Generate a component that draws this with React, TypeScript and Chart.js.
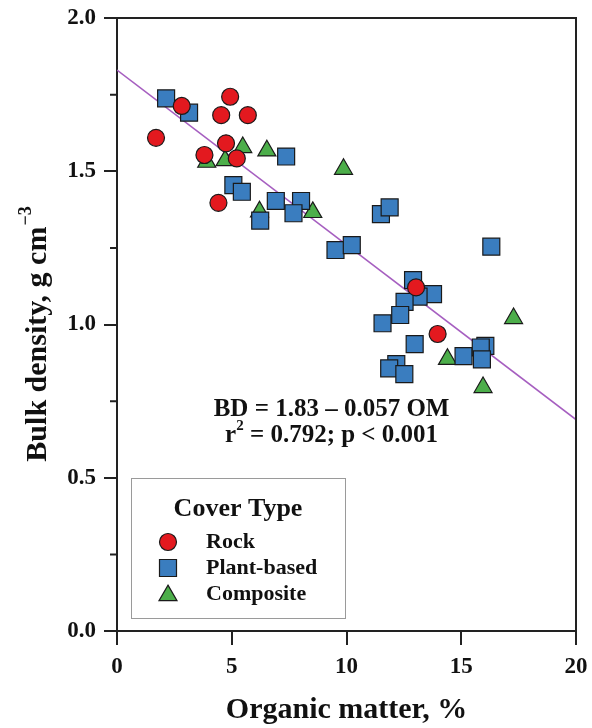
import React, { useEffect, useRef } from 'react';
import { Chart, registerables } from 'chart.js';

Chart.register(...registerables);

const FONT = "'Liberation Serif', 'Times New Roman', Times, serif";

// Rock cover
const rockOM = [1.70, 2.82, 4.93, 4.54, 5.70, 4.75, 3.81, 5.22, 4.42, 13.03, 13.97];
const rockBD = [1.609, 1.713, 1.743, 1.683, 1.683, 1.591, 1.553, 1.542, 1.397, 1.121, 0.969];

// Plant-based cover
const plantOM = [2.14, 3.14, 7.37, 5.07, 5.44, 6.92, 8.02, 7.69, 6.24, 9.52, 10.23, 11.50, 11.88, 16.31, 12.90, 13.77, 13.14, 12.53, 12.34, 11.57, 12.97, 15.10, 16.05, 15.85, 15.90, 12.17, 11.86, 12.52];
const plantBD = [1.738, 1.691, 1.548, 1.455, 1.433, 1.403, 1.403, 1.363, 1.339, 1.243, 1.259, 1.360, 1.382, 1.254, 1.145, 1.099, 1.091, 1.074, 1.031, 1.004, 0.936, 0.897, 0.930, 0.925, 0.886, 0.871, 0.857, 0.838];

// Composite cover
const compOM = [3.91, 4.71, 5.48, 6.53, 6.21, 8.53, 9.87, 14.40, 15.95, 17.28];
const compBD = [1.530, 1.535, 1.578, 1.567, 1.368, 1.366, 1.507, 0.887, 0.795, 1.020];

// Regression line endpoints (BD = 1.83 - 0.057 OM)
const fitOM = [0, 20];
const fitBD = [1.83, 0.69];

const xTicks = [0, 5, 10, 15, 20];
const yMinorTicks = [0.25, 0.75, 1.25, 1.75];

const seriesNames = ['Rock', 'Plant-based', 'Composite'];
const RED = '#e3191f';
const BLUE = '#3a7dbf';
const GREEN = '#4cae4a';
const EDGE = '#1a1a1a';

const toPts = (xs: number[], ys: number[]) => xs.map((x, i) => ({ x, y: ys[i] }));

function drawMarker(ctx: CanvasRenderingContext2D, kind: string, x: number, y: number) {
  ctx.save();
  ctx.lineWidth = 1.2;
  ctx.strokeStyle = EDGE;
  ctx.beginPath();
  if (kind === 'circle') {
    ctx.fillStyle = RED;
    ctx.arc(x, y, 8.5, 0, Math.PI * 2);
  } else if (kind === 'rect') {
    ctx.fillStyle = BLUE;
    ctx.rect(x - 8.5, y - 8.5, 17, 17);
  } else {
    ctx.fillStyle = GREEN;
    const r = 10.4;
    for (let i = 0; i < 3; i++) {
      const a = (i * 2 * Math.PI) / 3;
      const px = x + Math.sin(a) * r;
      const py = y - Math.cos(a) * r;
      if (i === 0) ctx.moveTo(px, py);
      else ctx.lineTo(px, py);
    }
    ctx.closePath();
  }
  ctx.fill();
  ctx.stroke();
  ctx.restore();
}

const decorPlugin = {
  id: 'decor',
  afterDraw(chart: any) {
    const { ctx, chartArea: a, scales } = chart;
    const ys = scales.y;
    const xs = scales.x;
    ctx.save();
    // top and right frame
    ctx.strokeStyle = '#222';
    ctx.lineWidth = 2;
    ctx.beginPath();
    ctx.moveTo(a.left - 1, a.top);
    ctx.lineTo(a.right, a.top);
    ctx.lineTo(a.right, a.bottom);
    ctx.stroke();
    // minor y ticks
    ctx.beginPath();
    for (const v of yMinorTicks) {
      const py = ys.getPixelForValue(v);
      ctx.moveTo(a.left - 7, py);
      ctx.lineTo(a.left, py);
    }
    ctx.stroke();

    // y title with superscript
    ctx.fillStyle = '#111';
    const mainTxt = 'Bulk density, g cm';
    const supTxt = '\u22123';
    ctx.font = `bold 30px ${FONT}`;
    const wMain = ctx.measureText(mainTxt).width;
    ctx.font = `bold 18px ${FONT}`;
    const wSup = ctx.measureText(supTxt).width;
    const total = wMain + wSup;
    ctx.save();
    ctx.translate(38, (a.top + a.bottom) / 2 + 10);
    ctx.rotate(-Math.PI / 2);
    ctx.textBaseline = 'middle';
    ctx.textAlign = 'left';
    ctx.font = `bold 30px ${FONT}`;
    ctx.fillText(mainTxt, -total / 2, 0);
    ctx.font = `bold 18px ${FONT}`;
    ctx.fillText(supTxt, -total / 2 + wMain + 1, -12);
    ctx.restore();

    // regression annotation
    const cx = xs.getPixelForValue(9.35);
    ctx.textBaseline = 'middle';
    ctx.textAlign = 'center';
    ctx.font = `bold 25px ${FONT}`;
    const l1y = ys.getPixelForValue(0.724);
    ctx.fillText('BD = 1.83 \u2013 0.057 OM', cx, l1y);
    const l2y = l1y + 26;
    const r = 'r';
    const sup = '2';
    const rest = ' = 0.792; p < 0.001';
    ctx.font = `bold 25px ${FONT}`;
    const wr = ctx.measureText(r).width;
    const wrest = ctx.measureText(rest).width;
    ctx.font = `bold 15px ${FONT}`;
    const ws = ctx.measureText(sup).width;
    const tot2 = wr + ws + wrest;
    const sx = cx - tot2 / 2;
    ctx.textAlign = 'left';
    ctx.font = `bold 25px ${FONT}`;
    ctx.fillText(r, sx, l2y);
    ctx.font = `bold 15px ${FONT}`;
    ctx.fillText(sup, sx + wr, l2y - 9);
    ctx.font = `bold 25px ${FONT}`;
    ctx.fillText(rest, sx + wr + ws, l2y);

    // legend box
    const bx = a.left + 14;
    const by = 478;
    const bw = 214;
    const bh = 140;
    ctx.fillStyle = '#fff';
    ctx.fillRect(bx, by, bw, bh);
    ctx.strokeStyle = '#9a9a9a';
    ctx.lineWidth = 1;
    ctx.strokeRect(bx + 0.5, by + 0.5, bw, bh);
    ctx.fillStyle = '#111';
    ctx.textAlign = 'center';
    ctx.textBaseline = 'middle';
    ctx.font = `bold 26px ${FONT}`;
    ctx.fillText('Cover Type', bx + bw / 2, by + 31);
    const kinds = ['circle', 'rect', 'triangle'];
    const rowY = [by + 64, by + 90, by + 116];
    ctx.textAlign = 'left';
    for (let i = 0; i < 3; i++) {
      drawMarker(ctx, kinds[i], bx + 37, rowY[i] + (kinds[i] === 'triangle' ? 1.5 : 0));
      ctx.fillStyle = '#111';
      ctx.font = `bold 22px ${FONT}`;
      ctx.fillText(seriesNames[i], bx + 75, rowY[i]);
    }
    ctx.restore();
  },
};

export default function App() {
  const ref = useRef<HTMLCanvasElement | null>(null);
  useEffect(() => {
    if (!ref.current) return;
    const tickFont = { family: FONT, size: 23, weight: 'bold' as const };
    const chart = new Chart(ref.current, {
      type: 'scatter',
      data: {
        datasets: [
          {
            label: 'Fit',
            data: toPts(fitOM, fitBD),
            showLine: true,
            borderColor: '#a65fc0',
            borderWidth: 1.6,
            pointRadius: 0,
            order: 4,
          } as any,
          {
            label: seriesNames[2],
            data: toPts(compOM, compBD),
            pointStyle: 'triangle',
            pointRadius: 10.4,
            backgroundColor: GREEN,
            borderColor: EDGE,
            borderWidth: 1.2,
            order: 3,
          },
          {
            label: seriesNames[1],
            data: toPts(plantOM, plantBD),
            pointStyle: 'rect',
            pointRadius: 12,
            backgroundColor: BLUE,
            borderColor: EDGE,
            borderWidth: 1.2,
            order: 2,
          },
          {
            label: seriesNames[0],
            data: toPts(rockOM, rockBD),
            pointStyle: 'circle',
            pointRadius: 8.5,
            backgroundColor: RED,
            borderColor: EDGE,
            borderWidth: 1.2,
            order: 1,
          },
        ],
      },
      options: {
        responsive: false,
        animation: false,
        layout: { padding: { top: 18, right: 16, left: 0, bottom: 0 } },
        plugins: { legend: { display: false }, tooltip: { enabled: false } },
        scales: {
          x: {
            type: 'linear',
            min: 0,
            max: 20,
            afterBuildTicks: (s: any) => {
              s.ticks = xTicks.map((v) => ({ value: v }));
            },
            ticks: { color: '#111', font: tickFont, padding: 8 },
            grid: { drawOnChartArea: false, color: '#222', lineWidth: 2, tickLength: 14 },
            border: { color: '#222', width: 2 },
            title: {
              display: true,
              text: 'Organic matter, %',
              color: '#111',
              font: { family: FONT, size: 30, weight: 'bold' },
              padding: { top: 0, bottom: 0 },
            },
            afterFit: (s: any) => {
              s.height = 97;
              s.paddingLeft = 0;
              s.paddingRight = 0;
            },
          },
          y: {
            type: 'linear',
            min: 0,
            max: 2,
            ticks: {
              stepSize: 0.5,
              color: '#111',
              font: tickFont,
              padding: 8,
              callback: (v: any) => Number(v).toFixed(1),
            },
            grid: { drawOnChartArea: false, color: '#222', lineWidth: 2, tickLength: 13 },
            border: { color: '#222', width: 2 },
            afterFit: (s: any) => {
              s.width = 117;
              s.paddingTop = 0;
              s.paddingBottom = 0;
            },
          },
        },
      },
      plugins: [decorPlugin],
    });
    return () => chart.destroy();
  }, []);
  return (
    <div style={{ position: 'absolute', left: 0, top: 0, width: 592, height: 728, background: '#fff' }}>
      <canvas ref={ref} width={592} height={728} style={{ display: 'block' }} />
    </div>
  );
}
